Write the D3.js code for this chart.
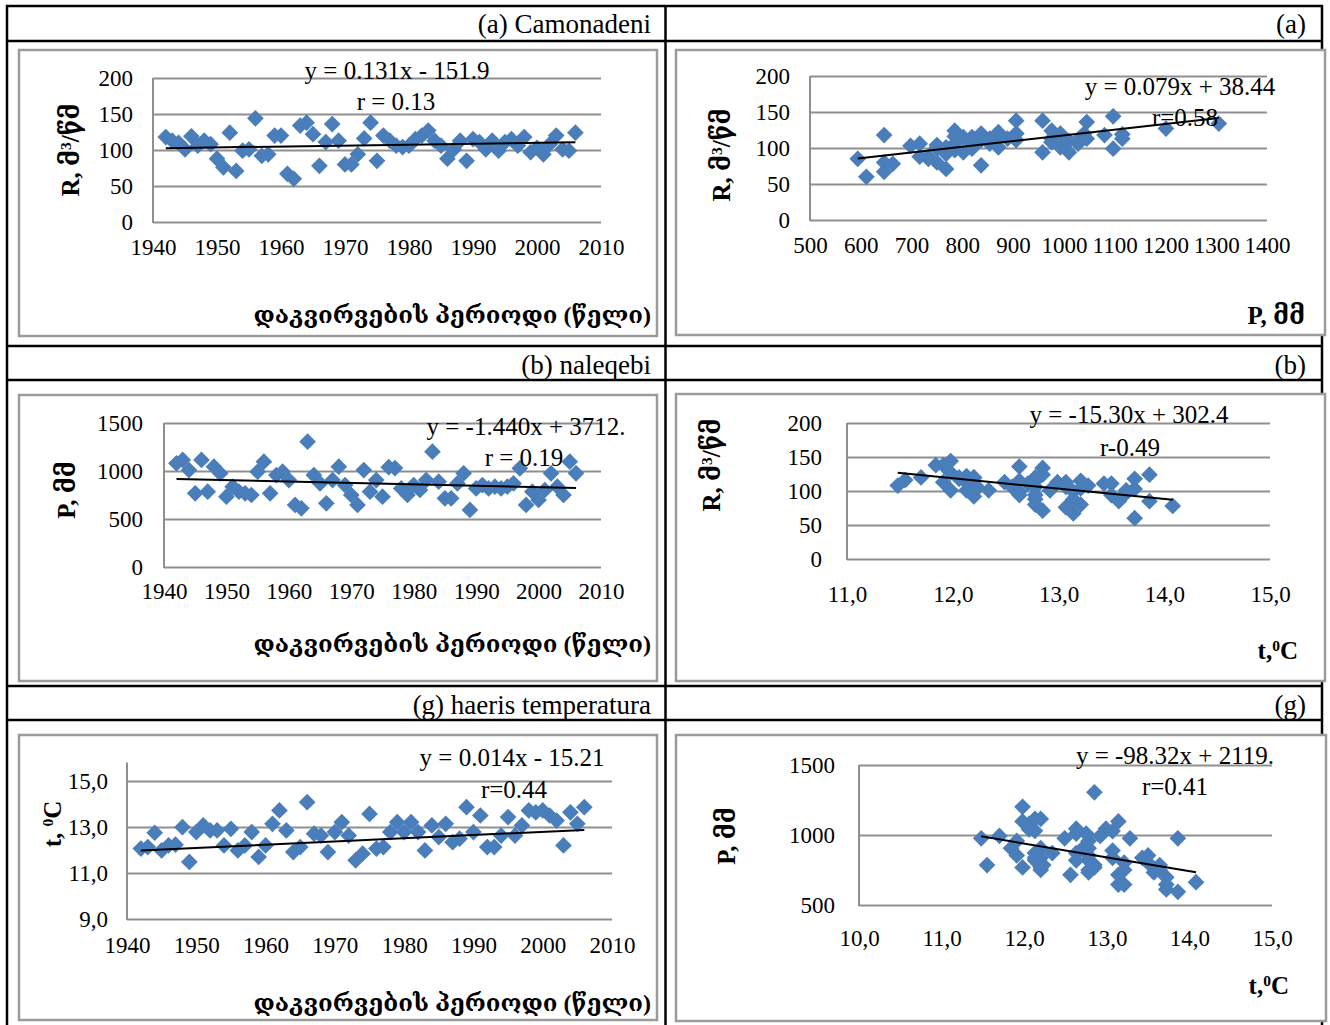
<!DOCTYPE html>
<html>
<head>
<meta charset="utf-8">
<script src="https://cdn.jsdelivr.net/npm/d3@7/dist/d3.min.js"></script>
<style>
  html, body { margin: 0; padding: 0; background: #fff; }
  svg { display: block; }
  text { font-family: "Liberation Serif", "DejaVu Serif", serif; fill: #000; }
</style>
</head>
<body>
<script>
// Observation years
const years = [
  1942, 1943, 1944, 1945, 1946, 1947, 1948, 1949, 1950, 1951,
  1952, 1953, 1954, 1955, 1956, 1957, 1958, 1959, 1960, 1961,
  1962, 1963, 1964, 1965, 1966, 1967, 1968, 1969, 1970, 1971,
  1972, 1973, 1974, 1975, 1976, 1977, 1978, 1979, 1980, 1981,
  1982, 1983, 1984, 1985, 1986, 1987, 1988, 1989, 1990, 1991,
  1992, 1993, 1994, 1995, 1996, 1997, 1998, 1999, 2000, 2001,
  2002, 2003, 2004, 2005, 2006
];

// Annual runoff R, m³/s
const runoff = [
  118, 113, 110, 101, 119, 106, 113, 108, 88, 76,
  124, 71, 99, 101, 144, 92, 94, 120, 120, 67,
  60, 134, 138, 122, 78, 111, 136, 113, 80, 80,
  94, 116, 138, 85, 120, 113, 106, 104, 106, 115,
  120, 127, 113, 106, 88, 101, 113, 85, 115, 111,
  101, 113, 99, 111, 115, 106, 118, 97, 103, 94,
  108, 120, 101, 99, 124
];

// Annual precipitation P, mm
const precip = [
  1080, 1115, 1010, 768, 1115, 785, 1045, 976, 733, 837,
  785, 768, 750, 993, 1097, 768, 958, 993, 906, 646,
  611, 1305, 958, 871, 663, 906, 1045, 854, 750, 646,
  1010, 785, 906, 733, 1040, 1030, 819, 750, 854, 802,
  906, 1201, 889, 716, 716, 871, 976, 594, 819, 854,
  819, 837, 819, 837, 871, 1028, 646, 785, 698, 802,
  976, 837, 750, 1097, 976
];

// Mean annual air temperature t, °C
const temperature = [
  12.06, 12.13, 12.75, 11.98, 12.20, 12.23, 12.99, 11.48, 12.78, 13.07,
  12.85, 12.85, 12.20, 12.92, 11.98, 12.20, 12.78, 11.70, 12.20, 13.14,
  13.72, 12.85, 11.91, 12.13, 14.08, 12.71, 12.63, 11.91, 12.78, 13.21,
  12.63, 11.55, 11.84, 13.57, 12.06, 12.13, 12.78, 13.21, 12.78, 13.21,
  12.78, 11.98, 13.07, 12.56, 13.14, 12.34, 12.49, 13.86, 12.78, 13.50,
  12.13, 12.13, 12.63, 13.43, 12.63, 13.07, 13.72, 13.64, 13.72, 13.50,
  13.28, 12.20, 13.64, 13.14, 13.86
];

// Axis ticks
const yearTicks = [1940, 1950, 1960, 1970, 1980, 1990, 2000, 2010];
const runoffTicks = [0, 50, 100, 150, 200];
const precipTicks = [0, 500, 1000, 1500];
const precipTicksShort = [500, 1000, 1500];
const precipTicksX = [500, 600, 700, 800, 900, 1000, 1100, 1200, 1300, 1400];
const tempTicksY = [9, 11, 13, 15];
const tempTicksX = [11, 12, 13, 14, 15];
const tempTicksWide = [10, 11, 12, 13, 14, 15];

// Linear trend coefficients [slope, intercept] and their captions
const trendRunoffYear = [0.131, -151.9];
const trendRunoffPrecip = [0.079, 38.44];
const trendPrecipYear = [-1.440, 3712];
const trendRunoffTemp = [-15.30, 302.4];
const trendTempYear = [0.014, -15.21];
const trendPrecipTemp = [-98.32, 2119];
const equationLabels = [
  "y = 0.131x - 151.9", "y = 0.079x + 38.44", "y = -1.440x + 3712.",
  "y = -15.30x + 302.4", "y = 0.014x - 15.21", "y = -98.32x + 2119."
];
const corrLabels = ["r = 0.13", "r=0.58", "r = 0.19", "r-0.49", "r=0.44", "r=0.41"];

// Table captions
const headerLeft = ["(a) Camonadeni", "(b) naleqebi", "(g) haeris temperatura"];
const headerRight = ["(a)", "(b)", "(g)"];
const periodTitle = "დაკვირვების პერიოდი (წელი)";

const W = 1330, H = 1025;
const svg = d3.select("body").append("svg").attr("width", W).attr("height", H);

const commaFmt = d => d.toFixed(1).replace(".", ",");
const plainFmt = d => String(d);

// ---- table grid ----
const table = svg.append("g").attr("class", "table");
const rowLines = [6, 41, 346, 380, 686, 720];
rowLines.forEach(y => {
  table.append("line").attr("x1", 6).attr("x2", 1323).attr("y1", y).attr("y2", y)
    .attr("stroke", "#000").attr("stroke-width", 2.5);
});
[7, 665.5, 1322].forEach(x => {
  table.append("line").attr("x1", x).attr("x2", x).attr("y1", 5).attr("y2", H)
    .attr("stroke", "#000").attr("stroke-width", 2.5);
});
const headerBase = [33, 374, 714];
headerLeft.forEach((t, i) => {
  table.append("text").attr("x", 651).attr("y", headerBase[i])
    .attr("text-anchor", "end").attr("font-size", 27).text(t);
});
headerRight.forEach((t, i) => {
  table.append("text").attr("x", 1306).attr("y", headerBase[i])
    .attr("text-anchor", "end").attr("font-size", 27).text(t);
});

// ---- chart panels ----
function appendTitle(g, spec) {
  const t = g.append("text")
    .attr("font-weight", "bold")
    .attr("font-size", spec.size)
    .attr("dy", "0.35em");
  if (spec.rotate) {
    t.attr("transform", `translate(${spec.x},${spec.y}) rotate(-90)`).attr("text-anchor", "middle");
  } else {
    t.attr("x", spec.x).attr("y", spec.y).attr("text-anchor", spec.anchor || "end");
  }
  spec.parts.forEach(p => {
    const s = t.append("tspan").text(p.text);
    if (p.sup) s.attr("font-size", spec.size * 0.62).attr("baseline-shift", "super");
  });
  return t;
}

const runoffTitle = [{ text: "R,  მ" }, { text: "3", sup: true }, { text: "/წმ" }];
const precipTitle = [{ text: "P,  მმ" }];
const tempTitle = [{ text: "t," }, { text: "0", sup: true }, { text: "C" }];
const tempTitleSpaced = [{ text: "t, " }, { text: "0", sup: true }, { text: "C" }];

const panels = [
  {
    frame: [19, 50, 657, 336],
    xs: years, ys: runoff, trend: trendRunoffYear,
    x: { domain: [1940, 2010], range: [153, 601], ticks: yearTicks, fmt: plainFmt, labelY: 247 },
    y: { domain: [0, 200], range: [222, 78], ticks: runoffTicks, fmt: plainFmt, pad: 20 },
    eq: { x: 397, y: 70 }, r: { x: 396, y: 101 },
    yTitle: { x: 70, y: 150, rotate: true, size: 25, parts: runoffTitle },
    xTitle: { x: 651, y: 315, size: 24, parts: [{ text: periodTitle }] }
  },
  {
    frame: [676, 50, 1325, 335],
    xs: precip, ys: runoff, trend: trendRunoffPrecip,
    x: { domain: [500, 1400], range: [810, 1267], ticks: precipTicksX, fmt: plainFmt, labelY: 245 },
    y: { domain: [0, 200], range: [220, 76], ticks: runoffTicks, fmt: plainFmt, pad: 20 },
    eq: { x: 1180, y: 86 }, r: { x: 1185, y: 117 },
    yTitle: { x: 721, y: 155, rotate: true, size: 25, parts: runoffTitle },
    xTitle: { x: 1305, y: 315, size: 25, parts: precipTitle }
  },
  {
    frame: [19, 395, 657, 681],
    xs: years, ys: precip, trend: trendPrecipYear,
    x: { domain: [1940, 2010], range: [164, 601], ticks: yearTicks, fmt: plainFmt, labelY: 591 },
    y: { domain: [0, 1500], range: [567, 423], ticks: precipTicks, fmt: plainFmt, pad: 21 },
    eq: { x: 526, y: 426 }, r: { x: 524, y: 457 },
    yTitle: { x: 66, y: 490, rotate: true, size: 25, parts: precipTitle },
    xTitle: { x: 651, y: 644, size: 24, parts: [{ text: periodTitle }] }
  },
  {
    frame: [676, 394, 1325, 681],
    xs: temperature, ys: runoff, trend: trendRunoffTemp,
    x: { domain: [11, 15], range: [847, 1270], ticks: tempTicksX, fmt: commaFmt, labelY: 594 },
    y: { domain: [0, 200], range: [559, 423], ticks: runoffTicks, fmt: plainFmt, pad: 25 },
    eq: { x: 1129, y: 414 }, r: { x: 1130, y: 447 },
    yTitle: { x: 711, y: 465, rotate: true, size: 25, parts: runoffTitle },
    xTitle: { x: 1298, y: 650, size: 25, parts: tempTitle }
  },
  {
    frame: [19, 735, 657, 1020],
    xs: years, ys: temperature, trend: trendTempYear,
    x: { domain: [1940, 2010], range: [127, 612], ticks: yearTicks, fmt: plainFmt, labelY: 945 },
    y: { domain: [9, 15], range: [919, 781], ticks: tempTicksY, fmt: commaFmt, pad: 19, axisTop: 15.8 },
    eq: { x: 512, y: 757 }, r: { x: 514, y: 789 },
    yTitle: { x: 52, y: 824, rotate: true, size: 25, parts: tempTitleSpaced },
    xTitle: { x: 651, y: 1003, size: 24, parts: [{ text: periodTitle }] }
  },
  {
    frame: [676, 735, 1326, 1021],
    xs: temperature, ys: precip, trend: trendPrecipTemp,
    x: { domain: [10, 15], range: [859, 1272], ticks: tempTicksWide, fmt: commaFmt, labelY: 938 },
    y: { domain: [500, 1500], range: [905, 765], ticks: precipTicksShort, fmt: plainFmt, pad: 24 },
    eq: { x: 1175, y: 755 }, r: { x: 1175, y: 786 },
    yTitle: { x: 726, y: 836, rotate: true, size: 25, parts: precipTitle },
    xTitle: { x: 1289, y: 985, size: 25, parts: tempTitle }
  }
];

// square rotated 45° = Excel-style diamond marker
const diamond = d3.symbol().type(d3.symbolSquare).size(140);

panels.forEach((p, i) => {
  const g = svg.append("g").attr("class", "panel");
  const [fx0, fy0, fx1, fy1] = p.frame;
  g.append("rect").attr("x", fx0).attr("y", fy0)
    .attr("width", fx1 - fx0).attr("height", fy1 - fy0)
    .attr("fill", "#fff").attr("stroke", "#9b9b9b").attr("stroke-width", 2.5);

  const x = d3.scaleLinear().domain(p.x.domain).range(p.x.range);
  const y = d3.scaleLinear().domain(p.y.domain).range(p.y.range);
  const plotW = p.x.range[1] - p.x.range[0];

  // horizontal gridlines with value labels
  const yAxis = g.append("g").attr("transform", `translate(${p.x.range[0]},0)`)
    .call(d3.axisLeft(y).tickValues(p.y.ticks).tickFormat(p.y.fmt)
      .tickSizeInner(-plotW).tickSizeOuter(0).tickPadding(p.y.pad));
  yAxis.select(".domain").remove();
  yAxis.selectAll(".tick line").attr("stroke", "#8f8f8f").attr("stroke-width", 2);
  yAxis.selectAll(".tick text").attr("font-family", "Liberation Serif")
    .attr("font-size", 23).attr("fill", "#000");

  // vertical value axis
  const topVal = p.y.axisTop !== undefined ? p.y.axisTop : p.y.domain[1];
  g.append("line").attr("x1", p.x.range[0]).attr("x2", p.x.range[0])
    .attr("y1", y(p.y.domain[0]) + 1).attr("y2", y(topVal))
    .attr("stroke", "#8f8f8f").attr("stroke-width", 2);

  // category/value labels under the plot
  const xAxis = g.append("g").attr("transform", `translate(0,${y(p.y.domain[0])})`)
    .call(d3.axisBottom(x).tickValues(p.x.ticks).tickFormat(p.x.fmt).tickSize(0));
  xAxis.select(".domain").remove();
  xAxis.selectAll(".tick text").attr("font-family", "Liberation Serif")
    .attr("font-size", 23).attr("fill", "#000")
    .attr("y", p.x.labelY - y(p.y.domain[0])).attr("dy", "0.35em");

  // observations
  const pts = p.xs.map((v, k) => [v, p.ys[k]]);
  g.append("g").selectAll("path").data(pts).join("path")
    .attr("d", diamond)
    .attr("transform", d => `translate(${x(d[0])},${y(d[1])}) rotate(45)`)
    .attr("fill", "#4a7ebb");

  // linear trend over the observed range
  const ext = d3.extent(p.xs);
  const line = d3.line().x(d => x(d)).y(d => y(p.trend[0] * d + p.trend[1]));
  g.append("path").datum(ext).attr("d", line)
    .attr("fill", "none").attr("stroke", "#000").attr("stroke-width", 2);

  // trend equation and correlation
  g.append("text").attr("x", p.eq.x).attr("y", p.eq.y).attr("dy", "0.35em")
    .attr("text-anchor", "middle").attr("font-size", 25).text(equationLabels[i]);
  g.append("text").attr("x", p.r.x).attr("y", p.r.y).attr("dy", "0.35em")
    .attr("text-anchor", "middle").attr("font-size", 25).text(corrLabels[i]);

  appendTitle(g, p.yTitle);
  appendTitle(g, p.xTitle);
});
</script>
</body>
</html>
